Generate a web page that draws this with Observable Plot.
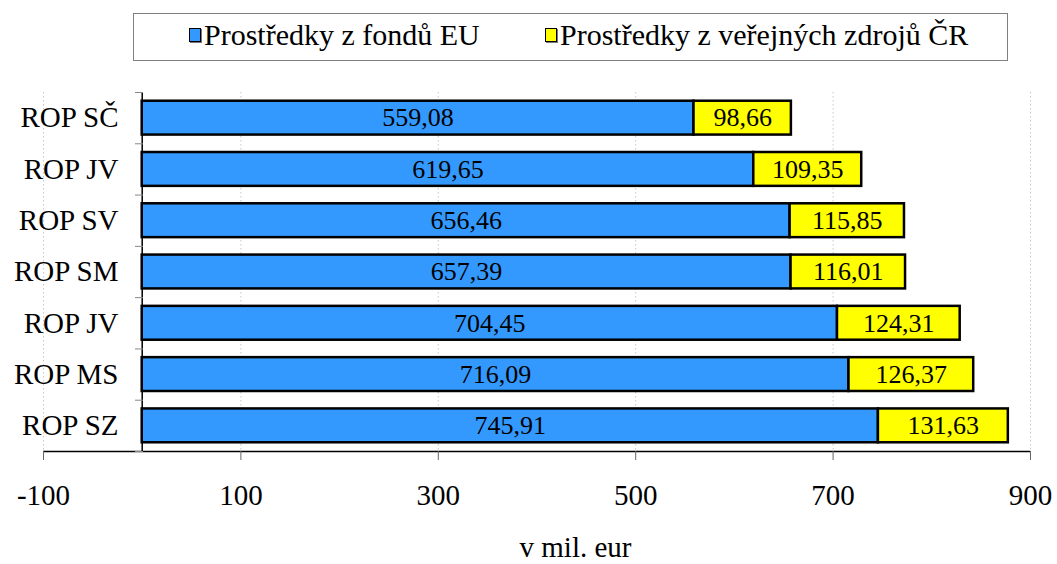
<!DOCTYPE html>
<html>
<head>
<meta charset="utf-8">
<script src="https://cdn.jsdelivr.net/npm/d3@7"></script>
<script src="https://cdn.jsdelivr.net/npm/@observablehq/plot@0.6"></script>
<style>
  html, body { margin: 0; padding: 0; background: white; }
  #wrap { position: relative; width: 1057px; height: 564px; overflow: hidden; font-family: 'Liberation Serif', serif; }
  #legend { position: absolute; left: 133px; top: 13px; width: 873px; height: 46px; border: 1px solid #808080;
    font-size: 30px; color: #000; font-family: 'Liberation Serif', serif; }
  .item { display: flex; align-items: center; position: absolute; top: 4px; }
  .sw { width: 10px; height: 12px; border: 1.5px solid #000; box-shadow: 1px 1px 0 #777; margin-right: 3px; }
  #chart { position: absolute; left: 0; top: 75px; }
</style>
</head>
<body>
<div id="wrap">
  <div id="legend"></div>
  <div id="chart"></div>
</div>
<script>
const categories = ["ROP SČ", "ROP JV", "ROP SV", "ROP SM", "ROP JV", "ROP MS", "ROP SZ"];
const euFunds = [559.08, 619.65, 656.46, 657.39, 704.45, 716.09, 745.91];
const czFunds = [98.66, 109.35, 115.85, 116.01, 124.31, 126.37, 131.63];
const seriesNames = ["Prostředky z fondů EU", "Prostředky z veřejných zdrojů ČR"];
const seriesColors = ["#3399FF", "#FFFF00"];
const xTicks = [-100, 100, 300, 500, 700, 900];
const xLabel = "v mil. eur";

const fmt = v => v.toFixed(2).replace(".", ",");
const serif = "'Liberation Serif', serif";

const rows = [];
categories.forEach((c, i) => {
  rows.push({i, series: seriesNames[0], x1: 0, x2: euFunds[i], v: euFunds[i]});
  rows.push({i, series: seriesNames[1], x1: euFunds[i], x2: euFunds[i] + czFunds[i], v: czFunds[i]});
});
const boundaries = d3.range(categories.length + 1).map(k => k - 0.5);
const half = 0.33;

const chart = Plot.plot({
  width: 1057,
  height: 489,
  marginLeft: 143,
  marginRight: 27,
  marginTop: 17,
  marginBottom: 113,
  style: {fontFamily: serif, fontSize: "29px", background: "white", color: "#000"},
  x: {domain: [-100, 900], range: [43, 1030]},
  y: {domain: [-0.5, categories.length - 0.5], reverse: true},
  color: {domain: seriesNames, range: seriesColors},
  marks: [
    Plot.ruleX(xTicks, {y1: -0.5, y2: categories.length - 0.5, stroke: "#c8c8c8", strokeDasharray: "1.5,2.5"}),
    Plot.rectX(rows, {x1: "x1", x2: "x2", y1: d => d.i - half, y2: d => d.i + half, fill: "series", stroke: "#000", strokeWidth: 2.5}),
    Plot.text(rows, {x: d => (d.x1 + d.x2) / 2, y: "i", text: d => fmt(d.v), fontSize: 26, fill: "#000", fontFamily: serif}),
    Plot.ruleX([0], {y1: -0.5, y2: categories.length - 0.5, stroke: "#000", strokeWidth: 1.5}),
    Plot.ruleY([categories.length - 0.5], {x1: -100, x2: 900, stroke: "#000", strokeWidth: 1.5}),
    Plot.axisY(boundaries, {anchor: "left", tickSize: 8, tickFormat: () => "", stroke: "#888", label: null}),
    Plot.axisY(d3.range(categories.length), {anchor: "left", tickSize: 0, tickPadding: 25, tickFormat: i => categories[i], fontSize: 29, fill: "#000", label: null, fontFamily: serif}),
    Plot.axisX(xTicks, {anchor: "bottom", tickSize: 9, tickPadding: 24, stroke: "#666", fontSize: 29, fill: "#000", label: null, tickFormat: v => String(v), fontFamily: serif}),
    Plot.text([xLabel], {frameAnchor: "bottom", x: 439, dy: 105, fontSize: 29, fill: "#000", fontFamily: serif})
  ]
});
d3.select(chart).selectAll("text").style("font-family", serif);
document.getElementById("chart").appendChild(chart);

const legend = document.getElementById("legend");
const lefts = [55, 411];
seriesNames.forEach((n, k) => {
  const it = document.createElement("div");
  it.className = "item";
  it.style.left = lefts[k] + "px";
  it.style.fontFamily = serif;
  it.innerHTML = `<span class="sw" style="background:${seriesColors[k]}"></span><span>${n}</span>`;
  legend.appendChild(it);
});
</script>
</body>
</html>
